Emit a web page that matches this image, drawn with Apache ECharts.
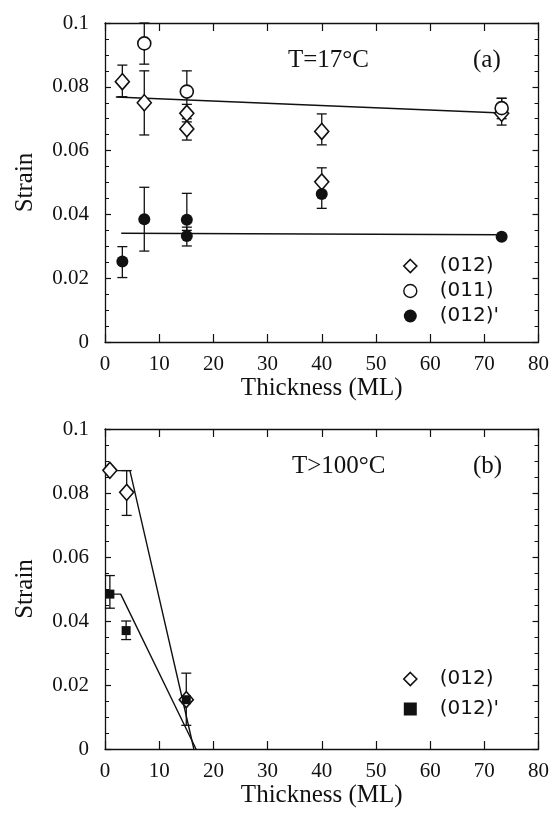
<!DOCTYPE html>
<html>
<head>
<meta charset="utf-8">
<script src="https://cdn.jsdelivr.net/npm/echarts@6/dist/echarts.min.js"></script>
<style>
  html, body { margin: 0; padding: 0; background: #fff; }
  #chart { width: 552px; height: 816px; }
</style>
</head>
<body>
<div id="chart"></div>
<script>
// ---- Panel (a): T = 17 °C. Each point: [thickness, strain, errLow, errHigh]
const a012 = [
  [3.2, 0.0816, 0.0769, 0.0868],
  [7.25, 0.0750, 0.0649, 0.0850],
  [15.1, 0.0717, 0.0690, 0.0745],
  [15.1, 0.0668, 0.0633, 0.0700],
  [40, 0.0660, 0.0618, 0.0715],
  [40, 0.0502, 0.0470, 0.0546],
  [73.2, 0.0717, 0.0680, 0.0764]
];
const a011 = [
  [7.25, 0.0936, 0.0871, 0.1000],
  [15.1, 0.0785, 0.0720, 0.0850],
  [73.2, 0.0733, 0.0700, 0.0764]
];
const a012p = [
  [3.2, 0.0252, 0.0202, 0.0299],
  [7.25, 0.0385, 0.0285, 0.0485],
  [15.1, 0.0383, 0.0350, 0.0466],
  [15.1, 0.0332, 0.0301, 0.0360],
  [40, 0.0464, 0.0419, 0.0500],
  [73.2, 0.0330, null, null]
];
const aFit012 = [[2, 0.0768], [73.2, 0.0718]];
const aFit012p = [[3, 0.0341], [73.2, 0.0336]];

// ---- Panel (b): T > 100 °C
const b012 = [
  [0.9, 0.0871, null, null],
  [4.0, 0.0802, 0.0730, 0.0870],
  [15.0, 0.0154, 0.0074, 0.0237]
];
const b012p = [
  [0.9, 0.0484, 0.0440, 0.0542],
  [3.9, 0.0370, 0.0342, 0.0400],
  [15.0, 0.0154, null, null]
];
const bFit012 = [[0.9, 0.087], [4.6, 0.087], [16.4, 0]];
const bFit012p = [[0.9, 0.0484], [2.9, 0.0484], [16.8, 0]];

// ---- Axis settings
const xMin = 0, xMax = 80, xStep = 10;
const yMin = 0, yMax = 0.1, yStep = 0.02;
const xTitle = 'Thickness (ML)';
const yTitle = 'Strain';
const labelA = 'T=17°C', tagA = '(a)';
const labelB = 'T>100°C', tagB = '(b)';

const SERIF = '"Liberation Serif", "DejaVu Serif", serif';
const SANS = '"DejaVu Sans", "Liberation Sans", sans-serif';
const INK = '#111';

function fmtY(v) {
  if (v === 0) return '0';
  return String(Math.round(v * 1000) / 1000);
}

function xAxisPair(g) {
  const base = {
    gridIndex: g, type: 'value', min: xMin, max: xMax, interval: xStep,
    axisLine: { show: true, onZero: false, lineStyle: { color: INK, width: 1.3 } },
    splitLine: { show: false }
  };
  return [
    Object.assign({}, base, {
      position: 'bottom',
      axisTick: { inside: true, length: 8, lineStyle: { color: INK, width: 1.2 } },
      axisLabel: { color: INK, fontFamily: SERIF, fontSize: 21, margin: 12 },
      name: xTitle, nameLocation: 'middle', nameGap: 32,
      nameTextStyle: { color: INK, fontFamily: SERIF, fontSize: 25 }
    }),
    Object.assign({}, base, {
      position: 'top',
      axisTick: { inside: true, length: 8, lineStyle: { color: INK, width: 1.2 } },
      axisLabel: { show: false }
    })
  ];
}

function yAxisPair(g) {
  const base = {
    gridIndex: g, type: 'value', min: yMin, max: yMax, interval: yStep,
    axisLine: { show: true, onZero: false, lineStyle: { color: INK, width: 1.3 } },
    splitLine: { show: false },
    axisTick: { inside: true, length: 6, lineStyle: { color: INK, width: 1.2 } },
    minorTick: { show: true, splitNumber: 4, length: 4, lineStyle: { color: INK, width: 1 } }
  };
  return [
    Object.assign({}, base, {
      position: 'left',
      axisLabel: { color: INK, fontFamily: SERIF, fontSize: 21, margin: 16, formatter: fmtY },
      name: yTitle, nameLocation: 'middle', nameGap: 67, nameRotate: 90,
      nameTextStyle: { color: INK, fontFamily: SERIF, fontSize: 25 }
    }),
    Object.assign({}, base, {
      position: 'right',
      axisLabel: { show: false }
    })
  ];
}

// Vertical error bars with short caps
function errorSeries(data, g) {
  const pts = data.filter(d => d[2] !== null).map(d => [d[0], d[2], d[3]]);
  return {
    type: 'custom', name: 'err', xAxisIndex: 2 * g, yAxisIndex: 2 * g, z: 3,
    silent: true,
    data: pts,
    renderItem: function (params, api) {
      const lo = api.coord([api.value(0), api.value(1)]);
      const hi = api.coord([api.value(0), api.value(2)]);
      const cap = 5;
      const st = { stroke: INK, lineWidth: 1.3, fill: null };
      return {
        type: 'group',
        children: [
          { type: 'line', shape: { x1: lo[0], y1: lo[1], x2: hi[0], y2: hi[1] }, style: st },
          { type: 'line', shape: { x1: lo[0] - cap, y1: lo[1], x2: lo[0] + cap, y2: lo[1] }, style: st },
          { type: 'line', shape: { x1: hi[0] - cap, y1: hi[1], x2: hi[0] + cap, y2: hi[1] }, style: st }
        ]
      };
    }
  };
}

function pointSeries(name, data, g, symbol, size, filled) {
  return {
    type: 'scatter', name: name, xAxisIndex: 2 * g, yAxisIndex: 2 * g, z: 5,
    data: data.map(d => [d[0], d[1]]),
    symbol: symbol, symbolSize: size,
    itemStyle: { color: filled ? INK : '#fff', borderColor: INK, borderWidth: filled ? 0 : 1.6, opacity: 1 },
    emphasis: { disabled: true }
  };
}

function fitSeries(data, g) {
  return {
    type: 'line', name: 'fit', xAxisIndex: 2 * g, yAxisIndex: 2 * g, z: 2,
    data: data, showSymbol: false, symbol: 'none', silent: true,
    lineStyle: { color: INK, width: 1.4 }
  };
}

const chart = echarts.init(document.getElementById('chart'), null, { renderer: 'canvas' });

const legendText = { color: INK, fontFamily: SANS, fontSize: 20, padding: [0, 0, 0, 18] };

chart.setOption({
  animation: false,
  backgroundColor: '#fff',
  grid: [
    { left: 105, top: 23, width: 434, height: 319 },
    { left: 105, top: 429, width: 434, height: 320 }
  ],
  xAxis: xAxisPair(0).concat(xAxisPair(1)),
  yAxis: yAxisPair(0).concat(yAxisPair(1)),
  legend: [
    {
      orient: 'vertical', left: 398, top: 251, itemWidth: 13, itemHeight: 13, itemGap: 5,
      selectedMode: false, textStyle: legendText,
      data: [
        { name: '(012)', icon: 'diamond', itemStyle: { color: '#fff', borderColor: INK, borderWidth: 1.6 } },
        { name: '(011)', icon: 'circle', itemStyle: { color: '#fff', borderColor: INK, borderWidth: 1.4 } },
        { name: "(012)'", icon: 'circle', itemStyle: { color: INK, borderWidth: 0 } }
      ]
    },
    {
      orient: 'vertical', left: 398, top: 664, itemWidth: 13, itemHeight: 13, itemGap: 10,
      selectedMode: false, textStyle: legendText,
      data: [
        { name: '(012)', icon: 'diamond', itemStyle: { color: '#fff', borderColor: INK, borderWidth: 1.6 } },
        { name: "(012)'", icon: 'rect', itemStyle: { color: INK, borderWidth: 0 }, itemWidth: 8 }
      ]
    }
  ],
  graphic: [
    { type: 'text', left: 288, top: 48, style: { text: labelA, font: '25px ' + SERIF, fill: INK } },
    { type: 'text', left: 473, top: 48, style: { text: tagA, font: '25px ' + SERIF, fill: INK } },
    { type: 'text', left: 292, top: 454, style: { text: labelB, font: '25px ' + SERIF, fill: INK } },
    { type: 'text', left: 473, top: 454, style: { text: tagB, font: '25px ' + SERIF, fill: INK } }
  ],
  series: [
    fitSeries(aFit012, 0),
    fitSeries(aFit012p, 0),
    errorSeries(a012, 0),
    errorSeries(a011, 0),
    errorSeries(a012p, 0),
    pointSeries('(012)', a012, 0, 'diamond', [14, 16], false),
    pointSeries('(011)', a011, 0, 'circle', 13, false),
    pointSeries("(012)'", a012p, 0, 'circle', 12, true),

    fitSeries(bFit012, 1),
    fitSeries(bFit012p, 1),
    errorSeries(b012, 1),
    errorSeries(b012p, 1),
    pointSeries('(012)', b012, 1, 'diamond', [14, 16], false),
    pointSeries("(012)'", b012p, 1, 'rect', 9, true)
  ]
});
</script>
</body>
</html>
